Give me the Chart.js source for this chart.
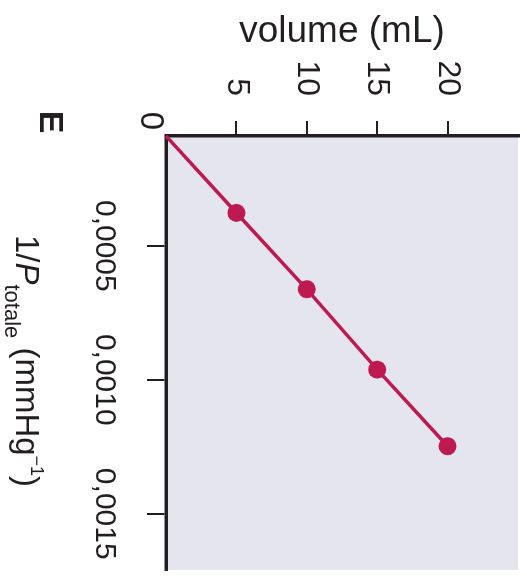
<!DOCTYPE html>
<html>
<head>
<meta charset="utf-8">
<script src="https://cdn.jsdelivr.net/npm/chart.js@4.4.1/dist/chart.umd.min.js"></script>
<style>
  html, body { margin: 0; padding: 0; background: #fff; overflow: hidden; }
  body { width: 527px; height: 582px; position: relative; }
  /* the figure is printed turned a quarter clockwise */
  #turn { position: absolute; left: 0; top: 0; width: 582px; height: 527px;
          transform-origin: 0 0; transform: translate(527px, 0) rotate(90deg); }
</style>
</head>
<body>
<div id="turn"><canvas id="boyle" width="582" height="527"></canvas></div>
<script>
// data
const volumes = [0, 5, 10, 15, 20];                           // mL
const invP = [0.00009, 0.000377, 0.000662, 0.000962, 0.001248]; // 1/mmHg
const volumeTicks = [5, 10, 15, 20];
const invPTicks = [0.0005, 0.0010, 0.0015];

const ink = '#231f20';
const red = '#be1a52';
const face = 'Liberation Sans, Arial, Helvetica, sans-serif';

const plotBg = {
    id: 'plotBg',
    beforeDraw(chart) {
        const { ctx, chartArea: a } = chart;
        ctx.save();
        ctx.fillStyle = '#e4e5ee';
        ctx.fillRect(a.left, a.top, a.right - a.left, a.bottom - a.top);
        ctx.restore();
    }
};

const labels = {
    id: 'labels',
    afterDraw(chart) {
        const { ctx, chartArea: a } = chart;
        ctx.save();
        ctx.fillStyle = ink;
        ctx.textAlign = 'center';
        ctx.textBaseline = 'middle';

        // shared origin
        ctx.font = `33px ${face}`;
        ctx.fillText('0', a.left - 15, a.bottom + 16);

        // panel letter
        ctx.font = `bold 34px ${face}`;
        ctx.fillText('E', a.left - 14, a.bottom + 117);

        // x title with sub/superscript
        const parts = [
            { text: '1/', font: `33px ${face}`, dy: 0 },
            { text: 'P', font: `italic 33px ${face}`, dy: 0 },
            { text: 'totale', font: `22px ${face}`, dy: 11 },
            { text: ' (mmHg', font: `33px ${face}`, dy: 0 },
            { text: '\u22121', font: `18px ${face}`, dy: -15 },
            { text: ')', font: `33px ${face}`, dy: 0 }
        ];
        ctx.textAlign = 'left';
        ctx.textBaseline = 'alphabetic';
        let w = 0;
        parts.forEach(p => { ctx.font = p.font; w += ctx.measureText(p.text).width; });
        let x = (a.left + a.right) / 2 + 8 - w / 2;
        const base = a.bottom + 150;
        parts.forEach(p => {
            ctx.font = p.font;
            ctx.fillText(p.text, x, base + p.dy);
            x += ctx.measureText(p.text).width;
        });
        ctx.restore();
    }
};

new Chart(document.getElementById('boyle'), {
    type: 'line',
    data: {
        datasets: [{
            data: volumes.map((v, i) => ({ x: invP[i], y: v })),
            borderColor: red,
            backgroundColor: red,
            borderWidth: 3.5,
            pointRadius: c => (c.dataIndex === 0 ? 0 : 9),
            pointBorderWidth: 0,
            tension: 0,
            clip: false
        }]
    },
    options: {
        responsive: false,
        animation: false,
        devicePixelRatio: 1,
        layout: { padding: { top: 7, right: 12, bottom: 0, left: 0 } },
        plugins: { legend: { display: false }, tooltip: { enabled: false } },
        scales: {
            x: {
                type: 'linear',
                position: 'bottom',
                min: 0.00009,
                max: 0.00171,
                afterBuildTicks: s => { s.ticks = invPTicks.map(value => ({ value })); },
                afterFit: s => { s.height = 166; s.paddingLeft = 0; s.paddingRight = 0; },
                border: { display: true, color: ink, width: 3.5 },
                grid: { drawOnChartArea: false, color: ink, lineWidth: 2, tickLength: 19 },
                ticks: {
                    padding: 25,
                    color: ink,
                    maxRotation: 0,
                    font: { family: face, size: 30 },
                    callback: v => v.toFixed(4).replace('.', ',')
                }
            },
            y: {
                type: 'linear',
                min: 0,
                max: 25,
                afterBuildTicks: s => { s.ticks = volumeTicks.map(value => ({ value })); },
                afterFit: s => { s.width = 136; s.paddingTop = 0; s.paddingBottom = 0; },
                border: { display: true, color: ink, width: 3.5 },
                grid: { drawOnChartArea: false, color: ink, lineWidth: 2, tickLength: 15 },
                title: {
                    display: true,
                    text: 'volume (mL)',
                    color: ink,
                    font: { family: face, size: 37 },
                    padding: { top: 10, bottom: 0 }
                },
                ticks: {
                    padding: 25,
                    color: ink,
                    font: { family: face, size: 32 }
                }
            }
        }
    },
    plugins: [plotBg, labels]
});
</script>
</body>
</html>
